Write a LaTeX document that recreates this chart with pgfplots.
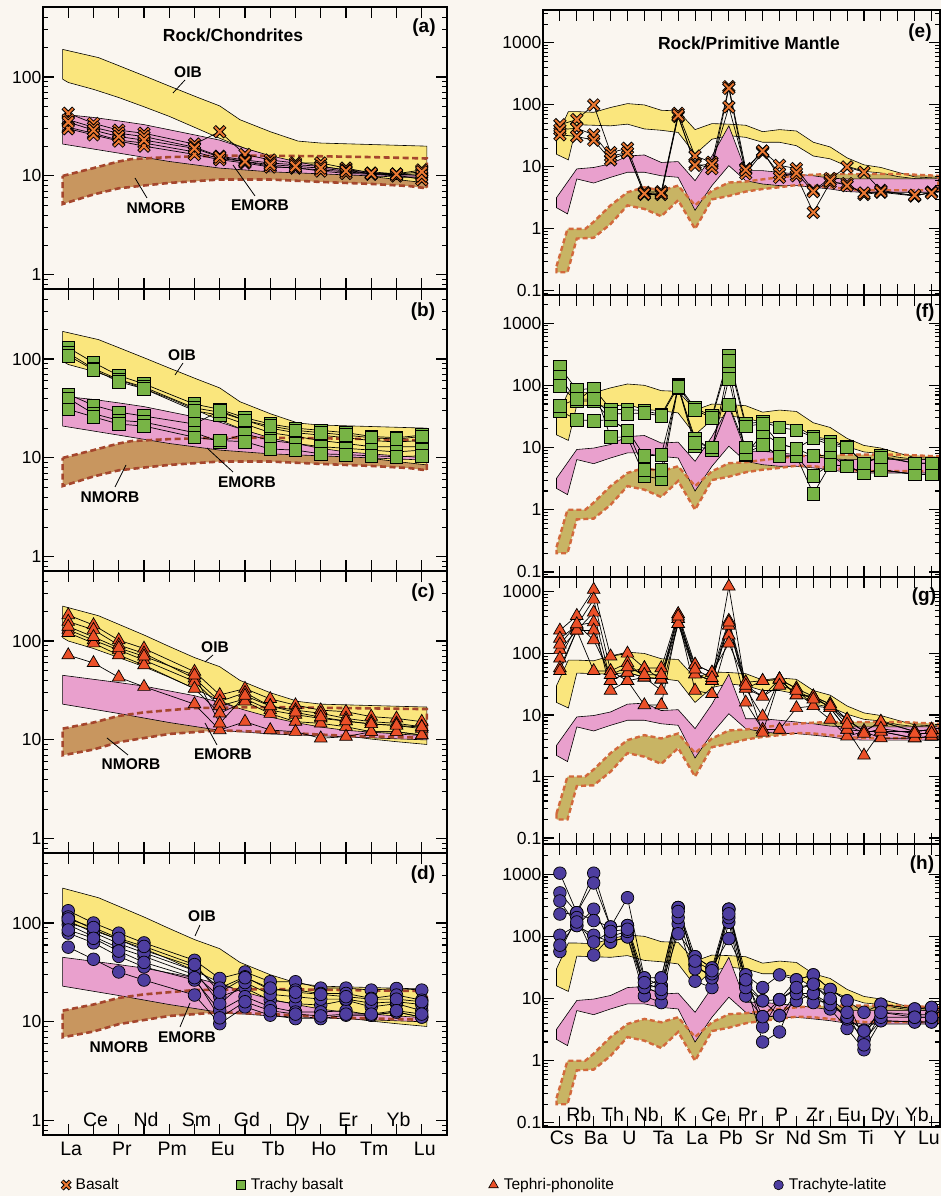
\documentclass[border=0pt]{standalone}
\usepackage{fontspec}
\setmainfont{Liberation Sans}
\usepackage{pgfplots}
\usepackage{pgfplotstable}
\pgfplotsset{compat=1.18}
\newcommand{\fs}[1]{\fontsize{#1bp}{#1bp}\selectfont}
\definecolor{bgc}{RGB}{250,246,240}
\definecolor{oib}{RGB}{250,230,125}
\definecolor{emorb}{RGB}{233,160,205}
\definecolor{nmorbL}{RGB}{200,150,95}
\definecolor{nmorbLd}{RGB}{165,70,45}
\definecolor{nmorbR}{RGB}{200,180,100}
\definecolor{nmorbRd}{RGB}{210,105,60}
\definecolor{xorange}{RGB}{235,120,50}
\definecolor{tgreen}{RGB}{120,180,70}
\definecolor{tred}{RGB}{235,80,40}
\definecolor{tpurple}{RGB}{78,62,160}

\pgfdeclareplotmark{bx}{%
  \pgfsetbuttcap
  \pgfsetlinewidth{4.0bp}\pgfsetstrokecolor{black}%
  \pgfpathmoveto{\pgfqpoint{-\pgfplotmarksize}{-\pgfplotmarksize}}%
  \pgfpathlineto{\pgfqpoint{\pgfplotmarksize}{\pgfplotmarksize}}%
  \pgfpathmoveto{\pgfqpoint{-\pgfplotmarksize}{\pgfplotmarksize}}%
  \pgfpathlineto{\pgfqpoint{\pgfplotmarksize}{-\pgfplotmarksize}}%
  \pgfusepathqstroke
  \pgfsetlinewidth{2.0bp}\pgfsetstrokecolor{xorange}%
  \pgfpathmoveto{\pgfqpoint{-0.9\pgfplotmarksize}{-0.9\pgfplotmarksize}}%
  \pgfpathlineto{\pgfqpoint{0.9\pgfplotmarksize}{0.9\pgfplotmarksize}}%
  \pgfpathmoveto{\pgfqpoint{-0.9\pgfplotmarksize}{0.9\pgfplotmarksize}}%
  \pgfpathlineto{\pgfqpoint{0.9\pgfplotmarksize}{-0.9\pgfplotmarksize}}%
  \pgfusepathqstroke
}

\pgfplotsset{
  zbas/.style={black, line width=0.7bp, mark=bx, mark size=5.3bp},
  ztrb/.style={black, line width=0.7bp, mark=square*, mark size=6.3bp, mark options={fill=tgreen, draw=black, line width=0.7bp}},
  ztep/.style={black, line width=0.7bp, mark=triangle*, mark size=7.3bp, mark options={fill=tred, draw=black, line width=0.7bp}},
  ztrl/.style={black, line width=0.7bp, mark=*, mark size=6.3bp, mark options={fill=tpurple, draw=black, line width=0.7bp}},
  zband/.style={draw=black, line width=0.6bp, forget plot},
}

% ---------- reference fields ----------
\newcommand{\reeA}{%
 \addplot[fill=nmorbL, draw=none, forget plot] coordinates {(0.78,10) (2,12) (3,14) (3.5,14.8) (5,15.5) (7,16) (9,16) (11,15.8) (13,15.5) (15.2,15) (15.2,7.5) (14.5,7.9) (13,8.3) (11,8.7) (9,9.2) (7,9.2) (5,8.5) (4,8) (3,7.5) (2,6.5) (0.78,5.2)} -- cycle;
 \addplot[zband, fill=oib] coordinates {(0.78,190) (2.2,157) (4,103) (5,81) (6,64) (7,51) (7.8,37) (9,28) (10.1,22.5) (11,21.5) (15.2,20) (15.2,8.5) (14,9.2) (13,9.9) (12,10.7) (11,12.1) (10,13.5) (9,15.8) (8,19) (7,24) (6,31) (5,40) (4,50) (3,62) (2,75) (1,88) (0.78,95)} -- cycle;
 \addplot[zband, fill=emorb] coordinates {(0.78,42) (2,39) (3,36) (4,33) (6,26) (7,23) (8,19) (9,16) (10,14) (11,12.5) (12,11.5) (13,11) (14,10.5) (15.2,10) (15.2,9.5) (13,10) (11,10.5) (9,11) (7,12) (5,14) (3,17) (0.78,21)} -- cycle;
 \addplot[draw=nmorbLd, line width=2.6bp, dash pattern=on 6bp off 3.5bp, forget plot] coordinates {(0.78,10) (2,12) (3,14) (3.5,14.8) (5,15.5) (7,16) (9,16) (11,15.8) (13,15.5) (15.2,15) (15.2,7.5) (14.5,7.9) (13,8.3) (11,8.7) (9,9.2) (7,9.2) (5,8.5) (4,8) (3,7.5) (2,6.5) (0.78,5.2)} -- cycle;
}
\newcommand{\reeC}{%
 \addplot[fill=nmorbL, draw=none, forget plot] coordinates {(0.78,13) (2,15) (3,17.5) (4,19) (6,21) (9,21.5) (12,21) (15.2,20.5) (15.2,10.5) (12,11) (9,12) (7,12.5) (5,11.5) (3,9.5) (2,8) (0.78,7)} -- cycle;
 \addplot[zband, fill=oib] coordinates {(0.78,225) (2.2,180) (4,115) (5,88) (6,68) (7,55) (7.8,40) (9,30) (10.1,24.5) (11,23) (15.2,21.5) (15.2,9) (14,9.6) (13,10.2) (12,11) (11,12.3) (10,13.8) (9,16) (8,19.5) (7,25) (6,33) (5,43) (4,55) (3,68) (2,84) (1,100) (0.78,108)} -- cycle;
 \addplot[zband, fill=emorb] coordinates {(0.78,45) (2,41) (3,38) (4,35) (6,28) (7,24) (8,20) (9,17) (10,15) (11,13.5) (12,12.5) (13,12) (14,11.5) (15.2,11) (15.2,10) (13,10.5) (11,11) (9,11.5) (7,12.5) (5,15) (3,18.5) (0.78,23)} -- cycle;
 \addplot[draw=nmorbLd, line width=2.6bp, dash pattern=on 6bp off 3.5bp, forget plot] coordinates {(0.78,13) (2,15) (3,17.5) (4,19) (6,21) (9,21.5) (12,21) (15.2,20.5) (15.2,10.5) (12,11) (9,12) (7,12.5) (5,11.5) (3,9.5) (2,8) (0.78,7)} -- cycle;
}
\newcommand{\spdF}{%
 \addplot[fill=nmorbR, draw=none, forget plot] coordinates {(0.8,0.25) (1.45,1.0) (2,1.0) (2.5,1.0) (3,1.3) (4,2.4) (5,3.9) (6,4.7) (7,4.15) (8,5.0) (9,2.4) (10,4.15) (11,5.6) (12,5.8) (13,6.3) (14,6.8) (15,7.2) (16,7.5) (17,7.7) (18,7.7) (19,7.7) (20,7.7) (21,7.7) (22,7.5) (23.4,7.2) (23.4,4.2) (22,4.2) (21,4.2) (20,4.2) (19,4.2) (18,4.4) (17,4.7) (16,5.0) (15,5.1) (14,4.7) (13,4.4) (12,4.0) (11,3.4) (10,3.0) (9,1.0) (8,2.9) (7,1.6) (6,2.1) (5,2.4) (4,1.2) (3,0.72) (2,0.7) (1.45,0.2) (0.8,0.2)} -- cycle;
 \addplot[zband, fill=oib] coordinates {(0.8,30) (1.5,78) (2,78) (3,76) (4,91) (5,105) (6,100) (7,82) (8,80) (9,40) (10,50) (11,49) (12,47) (13,37) (14,40) (15,38) (16,25) (17,21) (18,14) (19,10.8) (20,9.8) (21,8.2) (22,6.9) (23.4,6.6) (23.4,6.3) (22,6.5) (21,7) (20,8) (19,8.5) (18,10.3) (17,13.5) (16,15) (15,22) (14,25) (13,25) (12,30) (11,32) (10,28) (9,16) (8,36) (7,39) (6,41) (5,49) (4,46) (3,47) (2,48) (1.5,13) (0.8,16)} -- cycle;
 \addplot[zband, fill=emorb] coordinates {(0.8,3.2) (2,9.3) (3,9.8) (4,11.2) (5,15) (6,15.6) (7,11.8) (8,12.2) (9,6.0) (10,15) (11,46) (12,8.7) (13,8.7) (14,8.2) (15,7.7) (16,7.2) (17,6.6) (18,6.4) (19,6.4) (20,6.4) (21,6.4) (22,6.4) (23.4,6.4) (23.4,3.9) (22,3.9) (21,3.9) (20,3.9) (19,3.9) (18,4.0) (17,4.4) (16,4.7) (15,5.0) (14,5.0) (13,5.3) (12,6.0) (11,10.5) (10,5.0) (9,2.0) (8,6.8) (7,7.2) (6,8.2) (5,8.2) (4,6.8) (3,5.5) (2,6.4) (1.45,1.75) (0.8,2.2)} -- cycle;
 \addplot[draw=nmorbRd, line width=2.4bp, dash pattern=on 5bp off 3bp, forget plot] coordinates {(0.8,0.25) (1.45,1.0) (2,1.0) (2.5,1.0) (3,1.3) (4,2.4) (5,3.9) (6,4.7) (7,4.15) (8,5.0) (9,2.4) (10,4.15) (11,5.6) (12,5.8) (13,6.3) (14,6.8) (15,7.2) (16,7.5) (17,7.7) (18,7.7) (19,7.7) (20,7.7) (21,7.7) (22,7.5) (23.4,7.2) (23.4,4.2) (22,4.2) (21,4.2) (20,4.2) (19,4.2) (18,4.4) (17,4.7) (16,5.0) (15,5.1) (14,4.7) (13,4.4) (12,4.0) (11,3.4) (10,3.0) (9,1.0) (8,2.9) (7,1.6) (6,2.1) (5,2.4) (4,1.2) (3,0.72) (2,0.7) (1.45,0.2) (0.8,0.2)} -- cycle;
}

% ---------- sample data: REE (chondrite) ----------
\pgfplotstableread{
i a1 a2 a3 a4 a5
1 43 37 31 30 35
2 34 31 27 26 29
3 29 27 23 22.5 25
4 27 25 21.5 20 23
6 21 19.5 17.5 16.5 19
7 28 15.8 15 14.6 15.5
8 16.5 14.5 14 13.5 14
9 14.5 13.5 12.5 12.3 13
10 13.5 13 12 12.1 12.5
11 13.5 12.5 11.5 11.2 12
12 12 11.5 11 10.6 11.2
13 10.7 10.5 10.5 10.4 10.6
14 10.5 10.3 10.2 10 10.4
15 11.5 10.5 9.2 10 11
}\tabA
\pgfplotstableread{
i b1 b2 b3 b4 b5 b6
1 130 115 108 44 40 31
2 92 80 78 34 28 26
3 68 62 59 29 24 22
4 56 52 50 26.5 23 21
6 35 32 30 22 18 16.2
7 31 29 27 30 14.6 15
8 25.5 24 22 24 17.5 14.6
9 22 20 18 21 15 12.3
10 20 18 16.5 19 14 12
11 19 17 15 18 13 11
12 18 16 14 17 12.5 10.8
13 16.5 15 13 16 12 10.5
14 16 14.5 13 15.5 11.5 10.3
15 17 15 13 16.5 12 10.5
}\tabB
\pgfplotstableread{
i c1 c2 c3 c4 c5 c6
1 183 157 130 121 72 140
2 145 130 102 95 60 110
3 102 91 81 72 43 85
4 84 75 64 57 34.5 70
6 49 42 39 33 23 45
7 28.5 24.5 22 18.6 12.6 14.7
8 33 30 26 24.5 15.3 28
9 26 22 20 18.4 12.6 22
10 22.5 20 18 15.3 12.1 19
11 20 18.6 16.5 14.7 10.4 17
12 19.3 16.5 15.5 13.6 10.8 15.5
13 17.2 15.3 14.5 12.1 12.1 14.5
14 16.5 14.7 14 12.1 12.1 14
15 15.3 13.6 13 11.2 11.2 13.5
}\tabC
\pgfplotstableread{
i d1 d2 d3 d4 d5 d6 d7 d8
1 133 115 96 79 57 105 110 85
2 100 86 73 63 43 80 90 70
3 79 68 56 46 32 62 70 52
4 63 53 46 36 26.5 50 58 40
6 42 36 30 26.5 18.7 33 38 28
7 27.5 22 18 13 9.6 15.3 20 11
8 32 28.6 22 18 14.2 25 28 16
9 25.5 21 16.6 14.2 11.7 19 22 13
10 25.5 21 15.3 12.6 10.8 18 20 12
11 22 19.4 14.8 12.6 10.8 17 19 11.5
12 22 19.4 16.6 13 11.7 17 18 12
13 21 17.3 14.2 11.7 11.7 15.5 17 12
14 21.8 18.7 15.3 12.6 12.6 16 17 13
15 21 16.6 13 11.2 11.2 15 16 12
}\tabD
% ---------- sample data: spider (primitive mantle) ----------
\pgfplotstableread{
i e1 e2 e3
1 48 40 33
2 58 42 31
3 100 33 27
4 17 15 13
5 20 17 17
6 3.9 3.6 3.7
7 4.0 3.6 3.8
8 73 65 68
9 15 11.3 10.6
10 11.9 9.4 11
11 197 185 93
12 9.4 7.8 9
13 18 17 18
14 10.6 7.8 6.8
15 9.4 7.2 8
16 4.2 1.85 4
17 6.5 5.6 6
18 10 5.4 5
19 8.2 3.6 3.8
20 4.2 3.9 4
22 3.4 3.4 3.5
23 3.9 3.9 3.8
}\tabE
\pgfplotstableread{
i f1 f2 f3 f4 f5
1 197 137 99 39 47
2 84 56 56 28 60
3 90 56 90 27 60
4 41 28 14.7 28 35
5 41 19 14.7 19 35
6 39 7.3 3.5 4.4 36
7 34 7.6 3.1 4.4 32
8 101 90 95 100 95
9 43 14 10.5 12 40
10 32 9.2 9.2 10 30
11 300 197 128 49 250
12 24 7.6 8 10 22
13 26 17 11 11 24
14 21 11.5 7.3 7.3 11.5
15 19 9.6 7.3 7.3 9.6
16 14.7 7.3 1.8 3.5 14
17 12.3 7.6 5.3 5.3 11
18 10.2 5.0 5.0 5 10
19 5.6 3.9 3.9 3.9 5.6
20 7.3 4.4 4.4 4.4 7
22 5.6 3.7 3.7 3.7 5.6
23 5.6 3.7 3.7 3.7 5.6
}\tabF
\pgfplotstableread{
i g1 g2 g3 g4 g5 g6 g7
1 237 175 114 83 58 52 140
2 410 285 237 285 237 237 300
3 1090 755 464 322 52 237 165
4 90 52 36 25 52 36 45
5 100 70 49 36 36 49 60
6 58 41 41 14.5 41 58 45
7 58 38 38 14.5 25 38 45
8 437 365 303 365 303 437 400
9 66 46 46 25 66 46 55
10 49 36 36 22 49 36 40
11 342 1230 285 197 146 285 320
12 34 27 27 16 34 27 30
13 36 20 9.5 5.8 5.2 36 20
14 38 38 38 5.8 38 38 30
15 27 21 27 13 21 21 25
16 20 20 14 14 20 20 18
17 15 13 13 8.4 15 13 14
18 8.4 8.4 5.8 4.5 8.4 5.8 7
19 5.4 5.4 2.2 5.4 5.4 5.4 5
20 7.8 5.4 5.4 4.2 7.8 5.4 6
22 5.4 5.4 4.2 4.2 5.4 4.2 5
23 5.8 5.8 4.5 4.5 5.8 4.5 5
}\tabG
\pgfplotstableread{
i h1 h2 h3 h4 h5 h6 h7
1 1036 500 370 228 104 57 72
2 240 240 149 240 149 200 170
3 1036 720 273 179 104 50 81
4 141 141 81 141 81 100 120
5 418 149 98 149 98 120 130
6 21.5 15 11 21.5 15 15 18
7 21.5 16 8.6 16 21.5 12 14
8 290 290 159 110 290 200 250
9 47 35 19 47 35 30 40
10 31 21.5 15 31 21.5 25 28
11 273 273 168 92 273 200 230
12 24 18 11 24 18 15 20
13 15 9.2 5.1 3.5 2.0 9.2 5.1
14 24 9.6 5.3 9.6 2.9 5.3 9.6
15 20 14 9.2 20 14 12 15
16 24 17 12 24 8.6 12 17
17 14 9.2 6.8 14 9.2 8 10
18 9.2 4.7 3.3 9.2 4.7 5 6
19 6 3.1 1.5 2.2 2.2 3 1.8
20 8.1 6 4.4 8.1 4.4 5 6
22 6.8 5.5 4.2 6.8 4.2 5 5
23 7.2 5.5 4.2 7.2 4.2 5 5
}\tabH

\begin{document}
\begin{tikzpicture}
\fill[bgc] (0bp,0bp) rectangle (941bp,1196bp);

% ===== (a) =====
\begin{semilogyaxis}[at={(43bp,907bp)}, anchor=south west, scale only axis, width=404bp, height=282bp,
  xmin=0, xmax=16, ymin=0.72, ymax=510, axis on top, tick align=inside,
  major tick length=11bp, minor tick length=5bp, axis line style={line width=1.6bp},
  tick style={black, line width=1.1bp}, xtick={1,...,15}, xticklabels={},
  ytick={1,10,100}, yticklabels={1,10,100},
  minor ytick={0.8,0.9,2,3,4,5,6,7,8,9,20,30,40,50,60,70,80,90,200,300,400,500},
  yticklabel style={font=\fs{17.5}, inner sep=1.5bp}]
\reeA
\addplot[zbas] table[x=i,y=a1]{\tabA};
\addplot[zbas] table[x=i,y=a2]{\tabA};
\addplot[zbas] table[x=i,y=a3]{\tabA};
\addplot[zbas] table[x=i,y=a4]{\tabA};
\addplot[zbas] table[x=i,y=a5]{\tabA};
\end{semilogyaxis}
% ===== (b) =====
\begin{semilogyaxis}[at={(43bp,625bp)}, anchor=south west, scale only axis, width=404bp, height=282bp,
  xmin=0, xmax=16, ymin=0.72, ymax=510, axis on top, tick align=inside,
  major tick length=11bp, minor tick length=5bp, axis line style={line width=1.6bp},
  tick style={black, line width=1.1bp}, xtick={1,...,15}, xticklabels={},
  ytick={1,10,100}, yticklabels={1,10,100},
  minor ytick={0.8,0.9,2,3,4,5,6,7,8,9,20,30,40,50,60,70,80,90,200,300,400,500},
  yticklabel style={font=\fs{17.5}, inner sep=1.5bp}]
\reeA
\addplot[ztrb] table[x=i,y=b1]{\tabB};
\addplot[ztrb] table[x=i,y=b2]{\tabB};
\addplot[ztrb] table[x=i,y=b3]{\tabB};
\addplot[ztrb] table[x=i,y=b4]{\tabB};
\addplot[ztrb] table[x=i,y=b5]{\tabB};
\addplot[ztrb] table[x=i,y=b6]{\tabB};
\end{semilogyaxis}
% ===== (c) =====
\begin{semilogyaxis}[at={(43bp,343bp)}, anchor=south west, scale only axis, width=404bp, height=282bp,
  xmin=0, xmax=16, ymin=0.72, ymax=510, axis on top, tick align=inside,
  major tick length=11bp, minor tick length=5bp, axis line style={line width=1.6bp},
  tick style={black, line width=1.1bp}, xtick={1,...,15}, xticklabels={},
  ytick={1,10,100}, yticklabels={1,10,100},
  minor ytick={0.8,0.9,2,3,4,5,6,7,8,9,20,30,40,50,60,70,80,90,200,300,400,500},
  yticklabel style={font=\fs{17.5}, inner sep=1.5bp}]
\reeC
\addplot[ztep] table[x=i,y=c1]{\tabC};
\addplot[ztep] table[x=i,y=c2]{\tabC};
\addplot[ztep] table[x=i,y=c3]{\tabC};
\addplot[ztep] table[x=i,y=c4]{\tabC};
\addplot[ztep] table[x=i,y=c5]{\tabC};
\addplot[ztep] table[x=i,y=c6]{\tabC};
\end{semilogyaxis}
% ===== (d) =====
\begin{semilogyaxis}[at={(43bp,61bp)}, anchor=south west, scale only axis, width=404bp, height=282bp,
  xmin=0, xmax=16, ymin=0.72, ymax=510, axis on top, tick align=inside,
  major tick length=11bp, minor tick length=5bp, axis line style={line width=1.6bp},
  tick style={black, line width=1.1bp}, xtick={1,...,15}, xticklabels={},
  ytick={1,10,100}, yticklabels={1,10,100},
  minor ytick={0.8,0.9,2,3,4,5,6,7,8,9,20,30,40,50,60,70,80,90,200,300,400,500},
  yticklabel style={font=\fs{17.5}, inner sep=1.5bp}]
\reeC
\addplot[ztrl] table[x=i,y=d1]{\tabD};
\addplot[ztrl] table[x=i,y=d2]{\tabD};
\addplot[ztrl] table[x=i,y=d3]{\tabD};
\addplot[ztrl] table[x=i,y=d4]{\tabD};
\addplot[ztrl] table[x=i,y=d5]{\tabD};
\addplot[ztrl] table[x=i,y=d6]{\tabD};
\addplot[ztrl] table[x=i,y=d7]{\tabD};
\addplot[ztrl] table[x=i,y=d8]{\tabD};
\end{semilogyaxis}

% ===== (e) =====
\begin{semilogyaxis}[at={(543bp,901bp)}, anchor=south west, scale only axis, width=397bp, height=285bp,
  xmin=0, xmax=23.5, ymin=0.086, ymax=3400, axis on top, tick align=inside,
  major tick length=11bp, minor tick length=5bp, axis line style={line width=1.6bp},
  tick style={black, line width=1.1bp}, xtick={1,...,23}, xticklabels={},
  ytick={0.1,1,10,100,1000}, yticklabels={0.1,1,10,100,1000},
  minor ytick={0.09,0.2,0.3,0.4,0.5,0.6,0.7,0.8,0.9,2,3,4,5,6,7,8,9,20,30,40,50,60,70,80,90,200,300,400,500,600,700,800,900,2000,3000},
  yticklabel style={font=\fs{17.5}, inner sep=1.5bp}]
\spdF
\addplot[zbas] table[x=i,y=e1]{\tabE};
\addplot[zbas] table[x=i,y=e2]{\tabE};
\addplot[zbas] table[x=i,y=e3]{\tabE};
\end{semilogyaxis}
% ===== (f) =====
\begin{semilogyaxis}[at={(543bp,619bp)}, anchor=south west, scale only axis, width=397bp, height=282bp,
  xmin=0, xmax=23.5, ymin=0.083, ymax=2830, axis on top, tick align=inside,
  major tick length=11bp, minor tick length=5bp, axis line style={line width=1.6bp},
  tick style={black, line width=1.1bp}, xtick={1,...,23}, xticklabels={},
  ytick={0.1,1,10,100,1000}, yticklabels={0.1,1,10,100,1000},
  minor ytick={0.09,0.2,0.3,0.4,0.5,0.6,0.7,0.8,0.9,2,3,4,5,6,7,8,9,20,30,40,50,60,70,80,90,200,300,400,500,600,700,800,900,2000},
  yticklabel style={font=\fs{17.5}, inner sep=1.5bp}]
\spdF
\addplot[ztrb] table[x=i,y=f1]{\tabF};
\addplot[ztrb] table[x=i,y=f2]{\tabF};
\addplot[ztrb] table[x=i,y=f3]{\tabF};
\addplot[ztrb] table[x=i,y=f4]{\tabF};
\addplot[ztrb] table[x=i,y=f5]{\tabF};
\end{semilogyaxis}
% ===== (g) =====
\begin{semilogyaxis}[at={(543bp,352bp)}, anchor=south west, scale only axis, width=397bp, height=267bp,
  xmin=0, xmax=23.5, ymin=0.08, ymax=1750, axis on top, tick align=inside,
  major tick length=11bp, minor tick length=5bp, axis line style={line width=1.6bp},
  tick style={black, line width=1.1bp}, xtick={1,...,23}, xticklabels={},
  ytick={0.1,1,10,100,1000}, yticklabels={0.1,1,10,100,1000},
  minor ytick={0.09,0.2,0.3,0.4,0.5,0.6,0.7,0.8,0.9,2,3,4,5,6,7,8,9,20,30,40,50,60,70,80,90,200,300,400,500,600,700,800,900},
  yticklabel style={font=\fs{17.5}, inner sep=1.5bp}]
\spdF
\addplot[ztep] table[x=i,y=g1]{\tabG};
\addplot[ztep] table[x=i,y=g2]{\tabG};
\addplot[ztep] table[x=i,y=g3]{\tabG};
\addplot[ztep] table[x=i,y=g4]{\tabG};
\addplot[ztep] table[x=i,y=g5]{\tabG};
\addplot[ztep] table[x=i,y=g6]{\tabG};
\addplot[ztep] table[x=i,y=g7]{\tabG};
\end{semilogyaxis}
% ===== (h) =====
\begin{semilogyaxis}[at={(543bp,69bp)}, anchor=south west, scale only axis, width=397bp, height=283bp,
  xmin=0, xmax=23.5, ymin=0.086, ymax=3050, axis on top, tick align=inside,
  major tick length=11bp, minor tick length=5bp, axis line style={line width=1.6bp},
  tick style={black, line width=1.1bp}, xtick={1,...,23}, xticklabels={},
  ytick={0.1,1,10,100,1000}, yticklabels={0.1,1,10,100,1000},
  minor ytick={0.09,0.2,0.3,0.4,0.5,0.6,0.7,0.8,0.9,2,3,4,5,6,7,8,9,20,30,40,50,60,70,80,90,200,300,400,500,600,700,800,900,2000,3000},
  yticklabel style={font=\fs{17.5}, inner sep=1.5bp}]
\spdF
\addplot[ztrl] table[x=i,y=h1]{\tabH};
\addplot[ztrl] table[x=i,y=h2]{\tabH};
\addplot[ztrl] table[x=i,y=h3]{\tabH};
\addplot[ztrl] table[x=i,y=h4]{\tabH};
\addplot[ztrl] table[x=i,y=h5]{\tabH};
\addplot[ztrl] table[x=i,y=h6]{\tabH};
\addplot[ztrl] table[x=i,y=h7]{\tabH};
\end{semilogyaxis}

% ===== legend (hidden axis holding only legend entries) =====
\begin{axis}[at={(0bp,0bp)}, anchor=south west, scale only axis, width=10bp, height=10bp,
  hide axis, xmin=0, xmax=1, ymin=0, ymax=1,
  legend columns=4,
  legend style={at={(59bp,11bp)}, anchor=west, draw=none, fill=none, font=\fs{15.5},
    /tikz/every odd column/.style={column sep=3.5bp}},
  legend cell align=left]
\addlegendimage{only marks, mark=bx, mark size=4bp}
\addlegendentry{\makebox[159bp][l]{Basalt}}
\addlegendimage{only marks, mark=square*, mark size=4.3bp, mark options={fill=tgreen, draw=black, line width=0.6bp}}
\addlegendentry{\makebox[236bp][l]{Trachy basalt}}
\addlegendimage{only marks, mark=triangle*, mark size=5.5bp, mark options={fill=tred, draw=black, line width=0.6bp}}
\addlegendentry{\makebox[268bp][l]{Tephri-phonolite}}
\addlegendimage{only marks, mark=*, mark size=4.8bp, mark options={fill=tpurple, draw=black, line width=0.6bp}}
\addlegendentry{Trachyte-latite}
\end{axis}

% ===== titles and panel letters =====
\node[font=\fs{17.5}\bfseries] at (233bp,1161bp) {Rock/Chondrites};
\node[font=\fs{17.5}\bfseries] at (749bp,1153bp) {Rock/Primitive Mantle};
\begin{scope}[every node/.style={font=\fs{19}\bfseries}]
\node at (424bp,1168bp) {(a)};
\node at (423bp,884bp) {(b)};
\node at (423bp,603bp) {(c)};
\node at (423bp,321bp) {(d)};
\node at (920bp,1163bp) {(e)};
\node at (925bp,883bp) {(f)};
\node at (924bp,599bp) {(g)};
\node at (922bp,331bp) {(h)};
\end{scope}

% ===== field labels =====
\begin{scope}[every node/.style={font=\fs{15.5}\bfseries}, line width=0.8bp]
\node at (188bp,1124bp) {OIB}; \draw (173bp,1103bp) -- (185bp,1116bp);
\node at (156bp,988bp) {NMORB}; \draw (135bp,1018bp) -- (147bp,998bp);
\node at (260bp,991bp) {EMORB}; \draw (233bp,1031bp) -- (255bp,1000bp);
\node at (182bp,841bp) {OIB}; \draw (175bp,821bp) -- (183bp,833bp);
\node at (110bp,699bp) {NMORB}; \draw (126bp,731bp) -- (115bp,709bp);
\node at (247bp,714bp) {EMORB}; \draw (207bp,748bp) -- (233bp,724bp);
\node at (215bp,549bp) {OIB}; \draw (205bp,534bp) -- (213bp,541bp);
\node at (131bp,432bp) {NMORB}; \draw (107bp,458bp) -- (128bp,441bp);
\node at (223bp,442bp) {EMORB}; \draw (205bp,473bp) -- (217bp,451bp);
\node at (202bp,280bp) {OIB}; \draw (195bp,260bp) -- (200bp,271bp);
\node at (187bp,159bp) {EMORB}; \draw (190bp,193bp) -- (180bp,169bp);
\node at (119bp,149bp) {NMORB};
\end{scope}

% ===== element labels =====
\foreach \i/\n in {2/Ce,4/Nd,6/Sm,8/Gd,10/Dy,12/Er,14/Yb}
  {\pgfmathsetmacro{\xx}{43+\i*25.25+2}\node[anchor=base, font=\fs{19.5}, inner sep=0pt] at (\xx bp,69bp) {\n};}
\foreach \i/\n in {1/La,3/Pr,5/Pm,7/Eu,9/Tb,11/Ho,13/Tm,15/Lu}
  {\pgfmathsetmacro{\xx}{43+\i*25.25+3}\node[anchor=base, font=\fs{19.5}, inner sep=0pt] at (\xx bp,40bp) {\n};}
\foreach \i/\n in {2/Rb,4/Th,6/Nb,8/K,10/Ce,12/Pr,14/P,16/Zr,18/Eu,20/Dy,22/Yb}
  {\pgfmathsetmacro{\xx}{543+\i*16.894+2}\node[anchor=base, font=\fs{19.5}, inner sep=0pt] at (\xx bp,74bp) {\n};}
\foreach \i/\n in {1/Cs,3/Ba,5/U,7/Ta,9/La,11/Pb,13/Sr,15/Nd,17/Sm,19/Ti,21/Y}
  {\pgfmathsetmacro{\xx}{543+\i*16.894+2}\node[anchor=base, font=\fs{19.5}, inner sep=0pt] at (\xx bp,51bp) {\n};}
\node[anchor=base east, font=\fs{19.5}, inner sep=0pt] at (940bp,51bp) {Lu};

\pgfresetboundingbox
\useasboundingbox (0bp,0bp) rectangle (941bp,1196bp);
\end{tikzpicture}
\end{document}
